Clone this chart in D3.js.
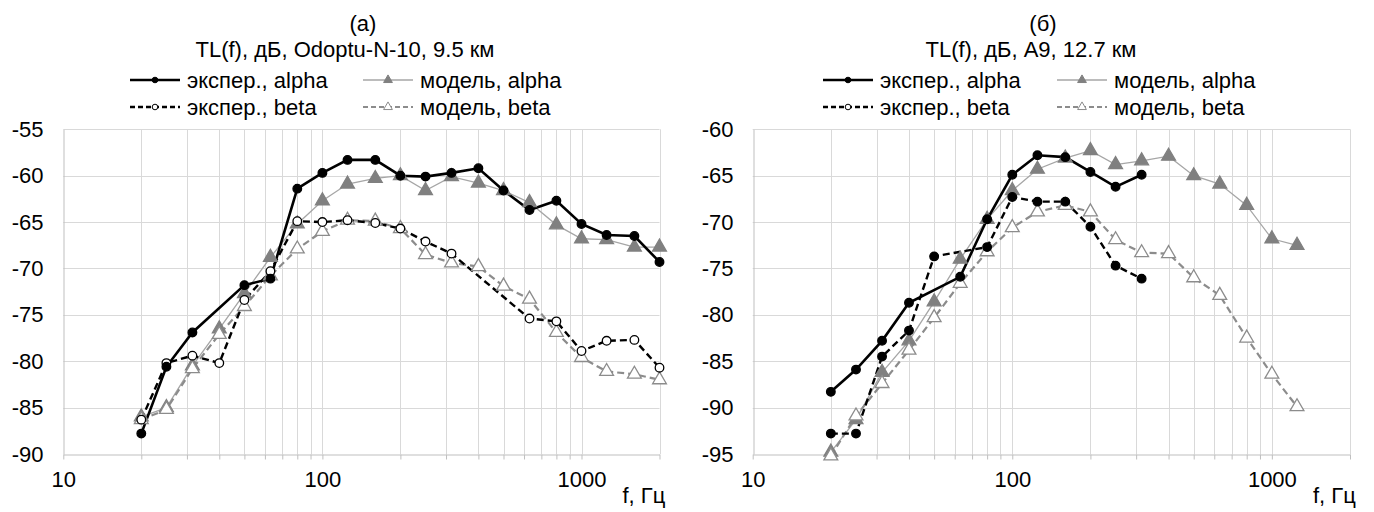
<!DOCTYPE html>
<html>
<head>
<meta charset="utf-8">
<script src="https://cdn.jsdelivr.net/npm/d3@7"></script>
<style>
  html, body { margin: 0; padding: 0; background: #fff; }
  svg { display: block; font-family: "Liberation Sans", Arial, sans-serif; }
  text { fill: #000; }
</style>
</head>
<body>
<svg id="chart" width="1374" height="512"></svg>
<script>
'use strict';
(function() {
  // Third-octave band frequencies, Hz
  var FREQ = [20, 25, 31.5, 40, 50, 63, 80, 100, 125, 160, 200, 250, 315, 400, 500, 630, 800, 1000, 1250, 1600, 2000];

  // (a) Odoptu-N-10, 9.5 km
  var A_EXP_ALPHA = [-87.8, -80.6, -76.9, null, -71.8, -71.1, -61.4, -59.7, -58.3, -58.3, -60.0, -60.1, -59.7, -59.2, -61.6, -63.7, -62.7, -65.2, -66.4, -66.5, -69.3];
  var A_MOD_ALPHA = [-86.0, -85.0, -80.5, -76.5, -72.7, -68.8, -65.2, -62.7, -60.9, -60.3, -60.0, -61.6, -60.1, -60.8, -61.6, -62.9, -65.3, -66.8, -66.9, -67.7, -67.7];
  var A_EXP_BETA = [-86.3, -80.2, -79.4, -80.2, -73.4, -70.3, -64.9, -65.0, -64.8, -65.1, -65.7, -67.1, -68.4, null, null, -75.4, -75.7, -78.9, -77.8, -77.7, -80.7];
  var A_MOD_BETA = [-86.3, -85.2, -80.8, -77.1, -74.1, -70.8, -67.9, -66.0, -64.8, -64.9, -65.7, -68.5, -69.4, -69.8, -71.9, -73.3, -76.9, -79.6, -81.1, -81.4, -82.0];

  // (б) A9, 12.7 km
  var B_EXP_ALPHA = [-88.3, -85.9, -82.8, -78.7, null, -75.9, -69.7, -64.9, -62.8, -63.0, -64.6, -66.2, -64.9, null, null, null, null, null, null, null, null];
  var B_MOD_ALPHA = [-94.8, -91.3, -86.2, -82.8, -78.6, -74.0, -69.7, -66.6, -64.3, -63.1, -62.3, -63.8, -63.4, -62.9, -65.0, -65.9, -68.2, -71.8, -72.5, null, null];
  var B_EXP_BETA = [-92.8, -92.8, -84.5, -81.7, -73.7, null, -72.7, -67.3, -67.8, -67.8, -70.5, -74.7, -76.1, null, null, null, null, null, null, null, null];
  var B_MOD_BETA = [-95.2, -90.9, -87.4, -83.8, -80.3, -76.6, -73.2, -70.6, -68.9, -68.2, -68.9, -71.9, -73.3, -73.4, -76.0, -77.9, -82.5, -86.4, -89.9, null, null];

  // Axis ticks
  var X_LABELS = [10, 100, 1000];
  var X_MINOR = [10, 20, 30, 40, 50, 60, 70, 80, 90, 100, 200, 300, 400, 500, 600, 700, 800, 900, 1000, 2000];
  var A_Y_TICKS = [-90, -85, -80, -75, -70, -65, -60, -55];
  var B_Y_TICKS = [-95, -90, -85, -80, -75, -70, -65, -60];

  var LEGEND = ['экспер., alpha', 'модель, alpha', 'экспер., beta', 'модель, beta'];

  // Styles
  var GRID = '#d9d9d9';
  var AXIS = '#bfbfbf';
  var FONT = 22;
  var STYLES = [
    {stroke: '#000', width: 2.6, dash: null, marker: 'circle', fill: '#000', mstroke: '#000'},
    {stroke: '#a6a6a6', width: 1.3, dash: null, marker: 'triangle', fill: '#808080', mstroke: '#808080'},
    {stroke: '#000', width: 2.4, dash: '7,4', marker: 'circle', fill: '#fff', mstroke: '#000'},
    {stroke: '#8c8c8c', width: 2.2, dash: '7,4', marker: 'triangle', fill: '#fff', mstroke: '#8c8c8c'}
  ];

  var svg = d3.select('#chart');

  var makeSeries = function(values) {
    var out = [];
    for (var i = 0; i < FREQ.length; i++) {
      if (values[i] !== null) out.push({f: FREQ[i], v: values[i]});
    }
    return out;
  };

  var drawMarker = function(sel, type, size, fill, stroke, sw) {
    if (type === 'circle') {
      sel.append('circle').attr('r', size).attr('fill', fill)
        .attr('stroke', stroke).attr('stroke-width', sw);
    } else {
      sel.append('path')
        .attr('d', d3.symbol().type(d3.symbolTriangle).size(size * size * 1.9)())
        .attr('fill', fill).attr('stroke', stroke).attr('stroke-width', sw);
    }
  };

  var drawPanel = function(p) {
    var g = svg.append('g');

    var x = d3.scaleLog().domain([10, 2000]).range([p.x0, p.x1]);
    var y = d3.scaleLinear().domain([p.yTicks[0], p.yTicks[p.yTicks.length - 1]]).range([454, 129.3]);

    // Grid
    g.append('g').selectAll('line.h')
      .data(p.yTicks.slice(1))
      .enter().append('line')
      .attr('x1', p.x0).attr('x2', p.x1)
      .attr('y1', function(d) { return Math.round(y(d)) + 0.5; })
      .attr('y2', function(d) { return Math.round(y(d)) + 0.5; })
      .attr('stroke', GRID).attr('stroke-width', 1);

    g.append('g').selectAll('line.v')
      .data(X_MINOR.slice(1))
      .enter().append('line')
      .attr('x1', function(d) { return Math.round(x(d)) + 0.5; })
      .attr('x2', function(d) { return Math.round(x(d)) + 0.5; })
      .attr('y1', y.range()[1]).attr('y2', y.range()[0])
      .attr('stroke', GRID).attr('stroke-width', 1);

    // Y axis (plain hyphen minus like the original)
    var yAxis = d3.axisLeft(y).tickValues(p.yTicks).tickSize(0).tickPadding(20)
      .tickFormat(function(d) { return String(d); });
    var ya = g.append('g')
      .attr('transform', 'translate(' + (Math.round(p.x0) + 0.5) + ',0)')
      .call(yAxis);
    ya.select('.domain').attr('stroke', AXIS);
    ya.selectAll('text').attr('font-size', FONT).attr('font-family', null).style('fill', '#000');

    // X axis
    var xAxis = d3.axisBottom(x).tickValues(X_MINOR).tickSizeInner(5).tickSizeOuter(0).tickPadding(12)
      .tickFormat(function(d) { return X_LABELS.indexOf(d) >= 0 ? String(d) : ''; });
    var xa = g.append('g')
      .attr('transform', 'translate(0,' + (Math.round(y.range()[0]) + 0.5) + ')')
      .call(xAxis);
    xa.select('.domain').attr('stroke', AXIS);
    xa.selectAll('line').attr('stroke', AXIS);
    xa.selectAll('text').attr('font-size', FONT).attr('font-family', null).style('fill', '#000');

    g.append('text').attr('x', p.x1 - 37).attr('y', 503)
      .attr('font-size', FONT).text('f, Гц');

    // Titles
    g.append('text').attr('x', p.tag).attr('y', 30.5)
      .attr('text-anchor', 'middle').attr('font-size', FONT).text(p.label);
    g.append('text').attr('x', p.titleX).attr('y', 56.5)
      .attr('text-anchor', 'middle').attr('font-size', FONT).text(p.title);

    // Series
    var line = d3.line()
      .x(function(d) { return x(d.f); })
      .y(function(d) { return y(d.v); });

    var order = [1, 3, 2, 0];
    order.forEach(function(k) {
      var st = STYLES[k];
      var data = makeSeries(p.series[k]);
      g.append('path')
        .datum(data)
        .attr('d', line)
        .attr('fill', 'none')
        .attr('stroke', st.stroke)
        .attr('stroke-width', st.width)
        .attr('stroke-dasharray', st.dash);
    });
    order.forEach(function(k) {
      var st = STYLES[k];
      var fill = (k === 2 && p.betaFilled) ? '#000' : st.fill;
      var data = makeSeries(p.series[k]);
      g.append('g').selectAll('g')
        .data(data)
        .enter().append('g')
        .attr('transform', function(d) { return 'translate(' + x(d.f) + ',' + y(d.v) + ')'; })
        .each(function() {
          drawMarker(d3.select(this), st.marker, st.marker === 'circle' ? 4.3 : 6.6, fill, st.mstroke, 1.3);
        });
    });

    // Legend
    for (var i = 0; i < 4; i++) {
      var st = STYLES[i];
      var lx = i % 2 === 0 ? p.legX[0] : p.legX[1];
      var ly = i < 2 ? 80 : 107;
      var item = g.append('g').attr('transform', 'translate(' + lx + ',' + ly + ')');
      item.append('line').attr('x1', 0).attr('x2', 50).attr('y1', 0).attr('y2', 0)
        .attr('stroke', st.stroke).attr('stroke-width', st.width)
        .attr('stroke-dasharray', st.dash ? '5,3' : null);
      var m = item.append('g').attr('transform', 'translate(25,0)');
      drawMarker(m, st.marker, st.marker === 'circle' ? 2.8 : 4.2, st.fill, st.mstroke, 1);
      item.append('text').attr('x', 57).attr('y', 7.5)
        .attr('font-size', FONT).text(LEGEND[i]);
    }
  };

  drawPanel({
    x0: 63.3, x1: 659.5,
    yTicks: A_Y_TICKS,
    label: '(a)', tag: 363, title: 'TL(f), дБ, Odoptu-N-10, 9.5 км', titleX: 345,
    legX: [130, 363],
    betaFilled: false,
    series: [A_EXP_ALPHA, A_MOD_ALPHA, A_EXP_BETA, A_MOD_BETA]
  });

  drawPanel({
    x0: 752.7, x1: 1350,
    yTicks: B_Y_TICKS,
    label: '(б)', tag: 1043, title: 'TL(f), дБ, A9, 12.7 км', titleX: 1031,
    legX: [823, 1057],
    betaFilled: true,
    series: [B_EXP_ALPHA, B_MOD_ALPHA, B_EXP_BETA, B_MOD_BETA]
  });
})();
</script>
</body>
</html>
